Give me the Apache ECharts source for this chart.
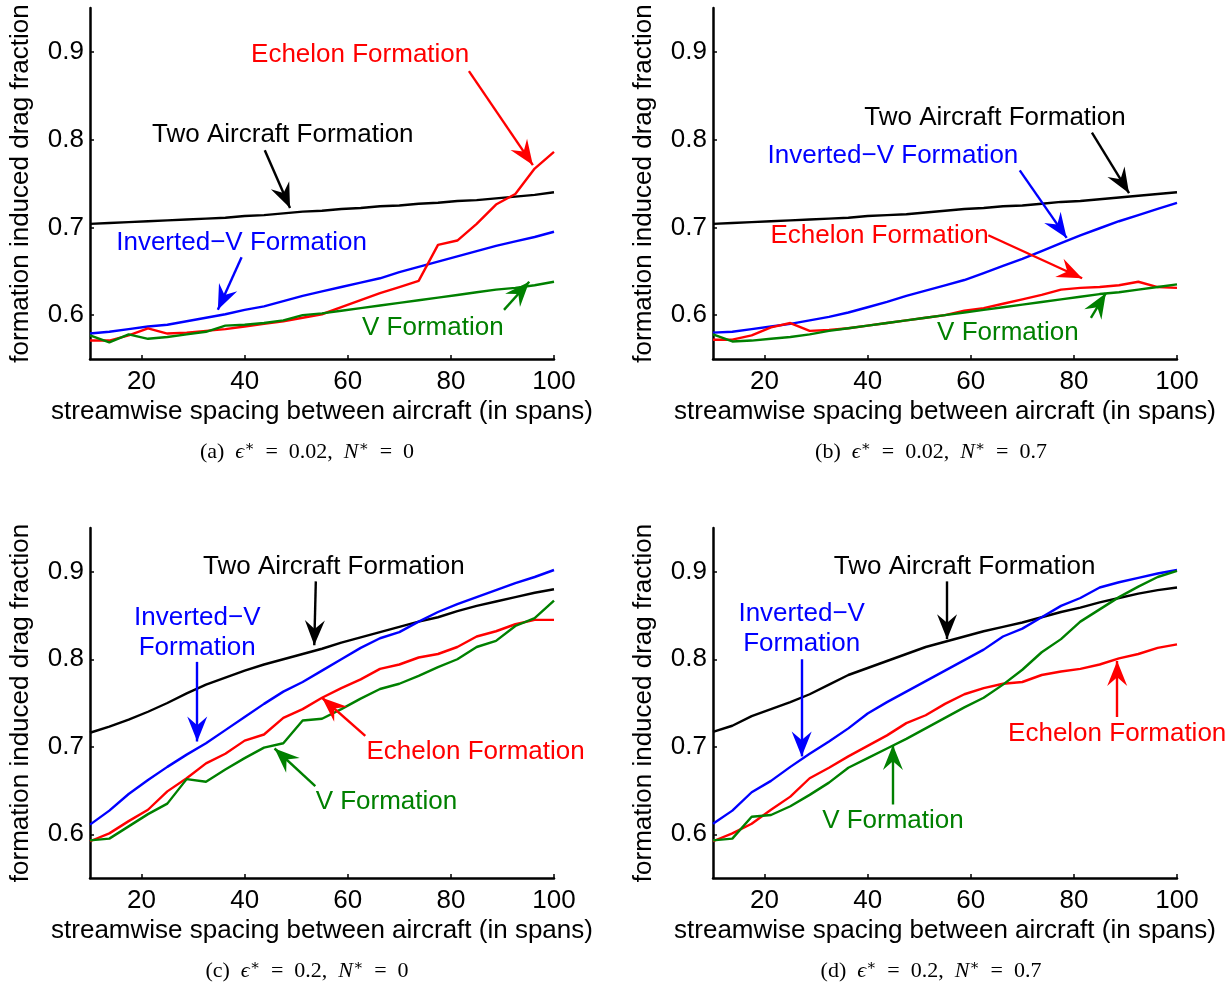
<!DOCTYPE html>
<html><head><meta charset="utf-8">
<script src="https://cdn.jsdelivr.net/npm/echarts@6/dist/echarts.min.js"></script>
<style>html,body{margin:0;padding:0;background:#fff}#c{width:1231px;height:986px}</style>
</head><body><div id="c"></div>
<script>
// ---------- data ----------
const spacing = [10,13.75,17.5,21.25,25,28.75,32.5,36.25,40,43.75,47.5,51.25,55,58.75,62.5,66.25,70,73.75,77.5,81.25,85,88.75,92.5,96.25,100];
const xTicks = [20,40,60,80,100];
const yTicks = [0.6,0.7,0.8,0.9];
const seriesNames = ['Two Aircraft Formation','Inverted\u2212V Formation','Echelon Formation','V Formation'];
const seriesColors = ['#000000','#0000ff','#ff0000','#008000'];

// (a) eps*=0.02, N*=0
const twoA_a = [0.704,0.705,0.706,0.707,0.708,0.709,0.710,0.711,0.713,0.714,0.716,0.718,0.719,0.721,0.722,0.724,0.725,0.727,0.728,0.730,0.731,0.733,0.735,0.737,0.740];
const invV_a = [0.579,0.581,0.584,0.587,0.589,0.593,0.597,0.601,0.606,0.610,0.616,0.622,0.627,0.632,0.637,0.642,0.649,0.655,0.661,0.667,0.673,0.679,0.684,0.689,0.695];
const ech_a  = [0.571,0.571,0.577,0.585,0.579,0.580,0.582,0.584,0.587,0.590,0.593,0.597,0.601,0.609,0.617,0.625,0.632,0.639,0.680,0.685,0.704,0.726,0.738,0.767,0.786];
const v_a    = [0.577,0.569,0.578,0.573,0.575,0.578,0.581,0.588,0.589,0.591,0.594,0.600,0.602,0.605,0.608,0.611,0.614,0.617,0.620,0.623,0.626,0.629,0.631,0.634,0.638];
// (b) eps*=0.02, N*=0.7
const twoA_b = [0.704,0.705,0.706,0.707,0.708,0.709,0.710,0.711,0.713,0.714,0.715,0.717,0.719,0.721,0.722,0.724,0.725,0.727,0.729,0.730,0.732,0.734,0.736,0.738,0.740];
const invV_b = [0.580,0.581,0.584,0.587,0.590,0.594,0.598,0.603,0.609,0.615,0.622,0.628,0.634,0.640,0.648,0.656,0.664,0.673,0.682,0.691,0.699,0.707,0.714,0.721,0.728];
const ech_b  = [0.572,0.572,0.577,0.586,0.591,0.582,0.583,0.585,0.588,0.591,0.594,0.597,0.600,0.605,0.608,0.613,0.618,0.623,0.629,0.631,0.632,0.634,0.638,0.632,0.631];
const v_b    = [0.578,0.570,0.571,0.573,0.575,0.578,0.582,0.585,0.588,0.591,0.594,0.597,0.600,0.603,0.606,0.609,0.612,0.615,0.618,0.621,0.624,0.626,0.629,0.632,0.635];
// (c) eps*=0.2, N*=0
const twoA_c = [0.716,0.723,0.731,0.740,0.750,0.761,0.771,0.779,0.787,0.794,0.800,0.806,0.812,0.819,0.825,0.831,0.837,0.843,0.848,0.855,0.861,0.866,0.871,0.876,0.880];
const invV_c = [0.611,0.627,0.646,0.662,0.677,0.691,0.704,0.719,0.734,0.749,0.763,0.774,0.787,0.800,0.813,0.824,0.831,0.843,0.854,0.863,0.871,0.879,0.887,0.894,0.902];
const ech_c  = [0.592,0.601,0.615,0.628,0.649,0.664,0.681,0.692,0.707,0.714,0.733,0.743,0.756,0.767,0.777,0.789,0.794,0.802,0.806,0.814,0.826,0.832,0.840,0.845,0.845];
const v_c    = [0.593,0.595,0.609,0.623,0.635,0.663,0.660,0.674,0.687,0.699,0.704,0.730,0.732,0.743,0.755,0.766,0.772,0.781,0.791,0.800,0.814,0.821,0.838,0.847,0.867];
// (d) eps*=0.2, N*=0.7
const twoA_d = [0.717,0.724,0.735,0.743,0.751,0.760,0.771,0.782,0.790,0.798,0.806,0.814,0.820,0.826,0.832,0.837,0.842,0.848,0.854,0.859,0.865,0.870,0.875,0.879,0.882];
const invV_d = [0.612,0.627,0.648,0.661,0.677,0.692,0.706,0.721,0.738,0.751,0.763,0.775,0.787,0.799,0.811,0.826,0.835,0.848,0.861,0.870,0.882,0.888,0.893,0.898,0.902];
const ech_d  = [0.592,0.601,0.612,0.628,0.643,0.664,0.676,0.689,0.701,0.713,0.727,0.736,0.749,0.760,0.767,0.772,0.774,0.782,0.786,0.789,0.794,0.801,0.806,0.813,0.817];
const v_d    = [0.593,0.595,0.620,0.622,0.632,0.645,0.659,0.676,0.687,0.698,0.709,0.721,0.733,0.745,0.756,0.771,0.788,0.808,0.823,0.843,0.857,0.871,0.883,0.894,0.901];

const panels = [
  [twoA_a, invV_a, ech_a, v_a],
  [twoA_b, invV_b, ech_b, v_b],
  [twoA_c, invV_c, ech_c, v_c],
  [twoA_d, invV_d, ech_d, v_d]
];

// annotation labels (data coords) and arrows (tail -> tip, data coords), per panel, per series
const annText = [
  [[47.4,0.805,'Two Aircraft Formation'],[39.4,0.682,'Inverted\u2212V Formation'],[62.4,0.897,'Echelon Formation'],[76.5,0.586,'V Formation']],
  [[64.7,0.825,'Two Aircraft Formation'],[44.9,0.782,'Inverted\u2212V Formation'],[42.3,0.690,'Echelon Formation'],[67.2,0.580,'V Formation']],
  [[57.3,0.906,'Two Aircraft Formation'],[30.8,0.830,'Inverted\u2212V\nFormation'],[84.8,0.694,'Echelon Formation'],[67.5,0.637,'V Formation']],
  [[58.8,0.906,'Two Aircraft Formation'],[27.2,0.835,'Inverted\u2212V\nFormation'],[88.4,0.715,'Echelon Formation'],[44.9,0.615,'V Formation']]
];
const annArrow = [
  [[43.9,0.788,48.8,0.722],[39.4,0.666,34.8,0.606],[83.5,0.878,95.9,0.771],[90.3,0.606,95.2,0.638]],
  [[83.5,0.808,90.7,0.739],[69.5,0.765,78.6,0.688],[63.4,0.691,81.6,0.642],[83.3,0.597,86.2,0.625]],
  [[53.8,0.889,53.5,0.816],[30.8,0.797,30.8,0.706],[63.4,0.7125,55.0,0.756],[53.7,0.655,45.8,0.698]],
  [[55.4,0.889,55.4,0.823],[27.2,0.800,27.2,0.689],[88.4,0.734,88.4,0.798],[44.9,0.634,44.9,0.702]]
];
const captions = [
  ['a','0.02','0'],['b','0.02','0.7'],['c','0.2','0'],['d','0.2','0.7']
];
const xName = 'streamwise spacing between aircraft (in spans)';
const yName = 'formation induced drag fraction';

// ---------- layout ----------
const SANS = '"Liberation Sans", Arial, Helvetica, sans-serif';
const SERIF = '"Liberation Serif", "DejaVu Serif", serif';
const ARROW = 'path://M0,0 L11,26 L0,17 L-11,26 Z';
const grids = [
  {left:90, top:8, width:464, height:351},
  {left:713, top:8, width:464, height:351},
  {left:90, top:528, width:464, height:350},
  {left:713, top:528, width:464, height:350}
];
const captionPos = [[307,452],[931,452],[307,971],[931,971]];

const xAxes = [], yAxes = [], series = [];
grids.forEach((g, i) => {
  xAxes.push({
    gridIndex:i, type:'value', min:10, max:100,
    name:xName, nameLocation:'middle', nameGap:40,
    nameTextStyle:{fontSize:26, color:'#000', fontFamily:SANS},
    axisLine:{show:true, onZero:false, lineStyle:{color:'#000', width:2.5}},
    axisTick:{show:true, inside:true, length:4, customValues:xTicks, lineStyle:{color:'#000', width:1.5}},
    axisLabel:{show:true, customValues:xTicks, margin:10, fontSize:26, color:'#000', fontFamily:SANS},
    splitLine:{show:false}
  });
  yAxes.push({
    gridIndex:i, type:'value', min:0.55, max:0.95,
    name:yName, nameLocation:'middle', nameGap:56, nameRotate:90,
    nameTextStyle:{fontSize:26, color:'#000', fontFamily:SANS},
    axisLine:{show:true, onZero:false, lineStyle:{color:'#000', width:2.5}},
    axisTick:{show:true, inside:true, length:4, customValues:yTicks, lineStyle:{color:'#000', width:1.5}},
    axisLabel:{show:true, customValues:yTicks, margin:6, fontSize:26, color:'#000', fontFamily:SANS,
      formatter: v => v.toFixed(1)},
    splitLine:{show:false}
  });
  panels[i].forEach((vals, s) => {
    const t = annText[i][s];
    const a = annArrow[i][s];
    series.push({
      type:'line', name:seriesNames[s], xAxisIndex:i, yAxisIndex:i,
      data: spacing.map((x, k) => [x, vals[k]]),
      showSymbol:false, symbol:'none',
      lineStyle:{color:seriesColors[s], width:2.4},
      itemStyle:{color:seriesColors[s]},
      silent:true,
      markPoint:{
        silent:true, symbol:'circle', symbolSize:0, animation:false,
        data:[{coord:[t[0], t[1]], value:0}],
        label:{show:true, position:'inside', formatter:t[2], color:seriesColors[s],
          fontSize:26, fontFamily:SANS, lineHeight:30, align:'center'}
      },
      markLine:{
        silent:true, animation:false,
        symbol:['none', ARROW],
        label:{show:false},
        lineStyle:{color:seriesColors[s], width:2.4, type:'solid'},
        emphasis:{disabled:true},
        data:[[
          {coord:[a[0], a[1]], symbol:'none'},
          {coord:[a[2], a[3]], symbol:ARROW, symbolSize:[20,25], symbolOffset:[0,'50%']}
        ]]
      }
    });
  });
});

const graphics = captions.map((c, i) => ({
  type:'text', x:captionPos[i][0], y:captionPos[i][1],
  style:{
    text:'{n|(' + c[0] + ')  }{i|\u03F5}{s|\u2217}{n|  =  ' + c[1] + ',  }{i|N}{s|\u2217}{n|  =  ' + c[2] + '}',
    align:'center', verticalAlign:'middle', textAlign:'center', textVerticalAlign:'middle',
    fill:'#000',
    rich:{
      n:{fontSize:22, fontFamily:SERIF, fill:'#000', color:'#000', lineHeight:24},
      i:{fontSize:22, fontFamily:SERIF, fontStyle:'italic', fill:'#000', color:'#000', lineHeight:24},
      s:{fontSize:15, fontFamily:SERIF, fill:'#000', color:'#000', verticalAlign:'top', lineHeight:24}
    }
  }
}));

const chart = echarts.init(document.getElementById('c'), null, {renderer:'canvas'});
chart.setOption({
  animation:false,
  backgroundColor:'#fff',
  grid: grids,
  xAxis: xAxes,
  yAxis: yAxes,
  series: series,
  graphic: graphics
});
</script></body></html>
